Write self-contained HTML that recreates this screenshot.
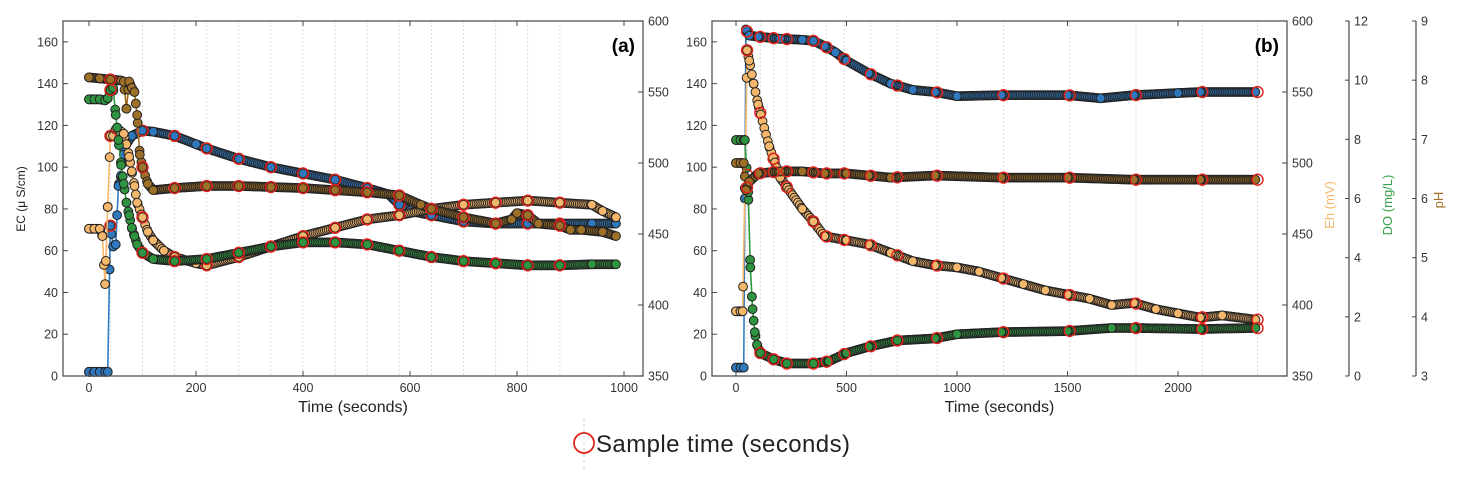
<!DOCTYPE html>
<html><head><meta charset="utf-8"><style>
html,body{margin:0;padding:0;background:#fff;}
svg{display:block;font-family:"Liberation Sans",sans-serif;}
</style></head><body>
<svg id="chart" width="1460" height="485" viewBox="0 0 1460 485">
</svg>
<script>
// ---- Panel (a) data (values in left-axis EC-equivalent units) ----
const aEcT = [0,10,20,30,35,40,45,50,55,60,65,70,80,100,120,160,200,220,280,340,400,460,520,560,580,600,640,700,760,820,880,940,985];
const aEcV = [2,2,2,2,2,72,62,63,91,96,106,111,115,117.5,117,115,111,109,104,100,97,94,90,87,82,79,77,74,73,73,73,73,73];
const aEhT = [0,10,20,25,30,35,40,45,50,55,60,65,70,75,80,85,90,100,110,120,140,160,200,220,280,340,400,460,520,580,640,700,760,820,880,940,960,985];
const aEhV = [70.5,70.5,70.5,67,44,81,115,115,118,118,117,116,111,105,98,91,83,76,69,65,60,57,54,53,57,62,67,71,75,77,80,82,83,84,83,82,79,76];
const aDoT = [0,10,20,30,35,40,45,50,55,60,65,70,75,80,85,90,100,120,160,220,280,340,400,460,520,580,640,700,760,820,880,940,985];
const aDoV = [132.5,132.5,132.5,132,133,137,138,125,113,101,92,83,77,71,67,63,59,56,55,56,59,62,64,64,63,60,57,55,54,53,53,53.5,53.5];
const aPhT = [0,20,40,60,65,70,75,80,85,90,95,100,110,120,160,220,280,340,400,460,520,580,620,640,700,760,790,800,820,840,880,900,920,960,985];
const aPhV = [143,142.5,142,141.5,141,128,141,138,136,125,106,100,92,89,90,91,91,90.5,90,89,88,86.5,82,80,76,73,75,78,77,73,72,70,70,69,67];
const aSamples = [40,100,160,220,280,340,400,460,520,580,640,700,760,820,880];
// ---- Panel (b) data (values in left-axis EC-equivalent units) ----
const bEcT = [0,20,35,45,60,100,200,300,350,400,450,500,600,700,800,900,1000,1200,1500,1650,1800,2000,2100,2350];
const bEcV = [4,4,4,166,163,162.5,161.5,161,160.5,158,155,151,145,140,137,136,134,134.5,134.5,133,134.5,135.5,136,136];
const bEhT = [0,20,30,40,50,60,80,100,150,200,300,350,400,500,600,700,800,900,1000,1100,1200,1300,1400,1500,1600,1700,1800,1900,2000,2100,2200,2350];
const bEhV = [31,31,31,90,156,151,140,130,110,95,80,74,67,65,63,59,55,53,52,50,47,44,41,39,37,34,35,32,30,28,29,27];
const bDoT = [0,20,35,40,55,65,75,85,95,110,170,230,350,420,500,600,730,900,1000,1200,1500,1700,1800,2100,2350];
const bDoV = [113,113,113,113,88,52,32,21,15,11,8,6,6,7,11,14,17,18,20,21,21.5,23,23,22.5,23];
const bPhT = [0,20,35,45,60,100,200,300,400,500,600,700,900,1200,1500,1800,2100,2350];
const bPhV = [102,102,102,89,93,97,98,98,97,97,96,95,96,95,95,94,94,94];
const bSamples = [50,110,170,230,350,410,490,610,730,910,1210,1510,1810,2110,2360];
// tick labels
const ecTicks = [0,20,40,60,80,100,120,140,160];
const ehTicks = [350,400,450,500,550,600];
const doTicks = [0,2,4,6,8,10,12];
const phTicks = [3,4,5,6,7,8,9];
const aXTicks = [0,200,400,600,800,1000];
const bXTicks = [0,500,1000,1500,2000];

const NS = "http://www.w3.org/2000/svg";
const svg = document.getElementById('chart');
function el(tag, attrs, parent, text){
  const e = document.createElementNS(NS, tag);
  for (const k in attrs) e.setAttribute(k, attrs[k]);
  if (text !== undefined) e.textContent = text;
  (parent || svg).appendChild(e);
  return e;
}
const TOP = 21, BOT = 376;
const yEC = v => BOT - (v/170)*(BOT-TOP);
const yEh = v => BOT - ((v-350)/250)*(BOT-TOP);
const yDO = v => BOT - (v/12)*(BOT-TOP);
const yPH = v => BOT - ((v-3)/6)*(BOT-TOP);
const xA = t => 89 + t*0.535;
const xB = t => 736 + t*0.221;

const colors = {
  ec:{line:'#2f7cc2', fill:'#2f78bd'},
  eh:{line:'#f6b868', fill:'#f5b76c'},
  dox:{line:'#2e9a42', fill:'#2f9440'},
  ph:{line:'#a06d22', fill:'#9f7028'}
};

function interpVal(T,V,t){
  for (let i=0;i<T.length-1;i++){ if (t>=T[i] && t<=T[i+1]) { const f=(t-T[i])/(T[i+1]-T[i]||1); return V[i]+f*(V[i+1]-V[i]); } }
  return V[V.length-1];
}

function drawSeries(g, T, V, xf, yf, c, name, samples){
  const sg = el('g', {}, g);
  
  
  const pts = T.map((t,i)=>[xf(t), yf(V[i])]);
  const line = el('polyline', {points: pts.map(p=>p.join(',')).join(' '), fill:'none', stroke:c.line, 'stroke-width':1.6}, sg);
  
  
  const tMax = T[T.length-1];
  const step = (xf(10)-xf(0)) > 4 ? 3.5 : 8;
  for (let t=T[0]; t<=tMax; t+=step){
    const m = el('circle', {cx:xf(t), cy:yf(interpVal(T,V,t)), r:4.4, fill:c.fill, stroke:'#222', 'stroke-width':1}, sg);
    
    
  }
  pts.forEach(p=>{
    const m = el('circle', {cx:p[0], cy:p[1], r:4.4, fill:c.fill, stroke:'#222', 'stroke-width':1}, sg);
    
    
  });
  samples.forEach(s=>{
    if (s>tMax+15) return;
    const m = el('circle', {cx:xf(s), cy:yf(interpVal(T,V,Math.min(s,tMax))), r:5.4, fill:'none', stroke:'#e0241c', 'stroke-width':1.5}, sg);
    
    
  });
}

function panel(id, L, R, xf, xTicks, samples, label, series){
  const g = el('g', {});
  
  
  samples.forEach(s=>{
    const l = el('line', {x1:xf(s), x2:xf(s), y1:TOP, y2:BOT, stroke:'#dcdcdc', 'stroke-width':1, 'stroke-dasharray':'2,2'}, g);
    
    
  });
  series.forEach(s=>drawSeries(g, s[0], s[1], xf, s[2], s[3], s[4], samples));
  const box = el('rect', {x:L, y:TOP, width:R-L, height:BOT-TOP, fill:'none', stroke:'#555', 'stroke-width':1.3}, g);
  
  
  xTicks.forEach(t=>{
    const x = xf(t);
    el('line', {x1:x,x2:x,y1:BOT,y2:BOT-5,stroke:'#444','stroke-width':1}, g);
    el('line', {x1:x,x2:x,y1:TOP,y2:TOP+5,stroke:'#444','stroke-width':1}, g);
    const tx = el('text', {x:x, y:BOT+16, 'font-size':12.5, 'text-anchor':'middle', fill:'#333'}, g, t);
    
    
  });
  ecTicks.forEach(v=>{
    const y = yEC(v);
    el('line', {x1:L,x2:L+5,y1:y,y2:y,stroke:'#444','stroke-width':1}, g);
    const tx = el('text', {x:L-5, y:y+4.5, 'font-size':12.5, 'text-anchor':'end', fill:'#333'}, g, v);
    
    
  });
  ehTicks.forEach(v=>{
    const y = yEh(v);
    el('line', {x1:R,x2:R-5,y1:y,y2:y,stroke:'#444','stroke-width':1}, g);
    const tx = el('text', {x:R+5, y:y+4.5, 'font-size':12.5, fill:'#333'}, g, v);
    
    
  });
  const xt = el('text', {x:(L+R)/2, y:412, 'font-size':16, 'text-anchor':'middle', fill:'#222'}, g, 'Time (seconds)');
  
  
  const pl = el('text', {x:R-8, y:52, 'font-size':19, 'font-weight':'bold', 'text-anchor':'end', fill:'#000'}, g, label);
  
  
}

panel('a', 63, 643, xA, aXTicks, aSamples, '(a)', [
  [aEcT,aEcV,yEC,colors.ec,'ec'],
  [aEhT,aEhV,yEC,colors.eh,'eh'],
  [aDoT,aDoV,yEC,colors.dox,'do'],
  [aPhT,aPhV,yEC,colors.ph,'ph']
]);
panel('b', 712, 1287, xB, bXTicks, bSamples, '(b)', [
  [bEcT,bEcV,yEC,colors.ec,'ec'],
  [bEhT,bEhV,yEC,colors.eh,'eh'],
  [bDoT,bDoV,yEC,colors.dox,'do'],
  [bPhT,bPhV,yEC,colors.ph,'ph']
]);

const ect = el('text', {x:0, y:0, 'font-size':12, 'text-anchor':'middle', fill:'#222', transform:'translate(25,199) rotate(-90)'}, svg, 'EC (\u03BC S/cm)');



function extraAxis(x, ticks, yf, name){
  const g = el('g', {});
  
  
  el('line', {x1:x,x2:x,y1:TOP,y2:BOT,stroke:'#555','stroke-width':1.3}, g);
  ticks.forEach(v=>{
    const y = yf(v);
    el('line', {x1:x-4,x2:x,y1:y,y2:y,stroke:'#444','stroke-width':1}, g);
    const tx = el('text', {x:x+5, y:y+4.5, 'font-size':12.5, fill:'#333'}, g, v);
    
    
  });
}
extraAxis(1349, doTicks, yDO, 'do');
extraAxis(1416, phTicks, yPH, 'ph');
const t1 = el('text', {'font-size':13, 'text-anchor':'middle', fill:'#f6b868', transform:'translate(1334,205) rotate(-90)'}, svg, 'Eh (mV)');


const t2 = el('text', {'font-size':13, 'text-anchor':'middle', fill:'#3aa14a', transform:'translate(1392,205) rotate(-90)'}, svg, 'DO (mg/L)');


const t3 = el('text', {'font-size':13, 'text-anchor':'middle', fill:'#a06d22', transform:'translate(1443,200) rotate(-90)'}, svg, 'pH');



const lg = el('g', {});


el('line', {x1:584,x2:584,y1:418,y2:470,stroke:'#ccc','stroke-width':1,'stroke-dasharray':'3,3'}, lg);
const lc = el('circle', {cx:584, cy:443, r:10, fill:'none', stroke:'#e0241c', 'stroke-width':1.8}, lg);


const lt = el('text', {x:596, y:452, 'font-size':24, fill:'#222', textLength:254}, lg, 'Sample time (seconds)');


</script>
</body></html>
